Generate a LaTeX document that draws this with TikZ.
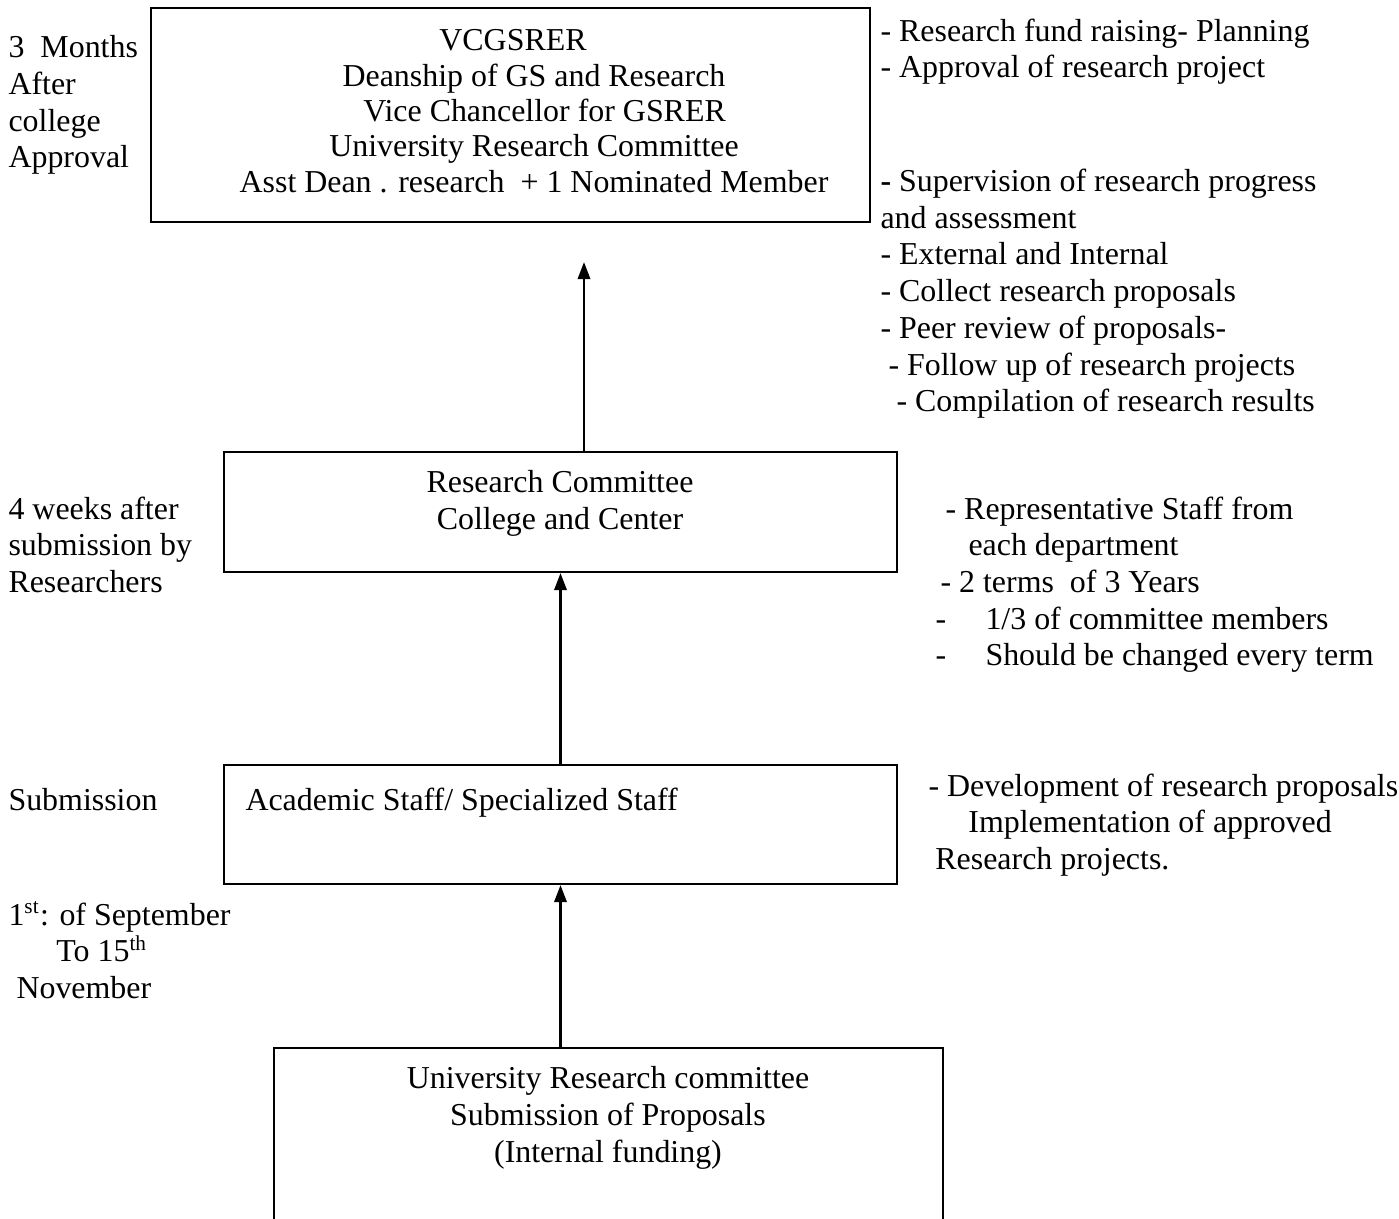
\documentclass[tikz,border=0pt]{standalone}
\usepackage{fontspec}
\setmainfont{Liberation Serif}
\usepackage{tikz}
\usetikzlibrary{positioning,calc,arrows.meta}

\tikzset{
  box/.style={draw, line width=0.8pt, inner sep=0pt},
  lbl/.style={anchor=north west, align=left, inner sep=0pt, execute at begin node=\strut},
  ctr/.style={anchor=north, align=center, inner sep=0pt, execute at begin node=\strut},
  uparrow/.style={line width=1pt, -{Triangle[length=6.4pt,width=4.6pt]}}
}

\begin{document}
\begin{tikzpicture}[x=0.376pt, y=-0.376pt, every node/.style={font=\fontsize{12}{13.8}\selectfont}]
    \useasboundingbox (0,0) rectangle (1399,1219);
    \clip (0,0) rectangle (1399,1219);

    \node[box, minimum width=270.3pt, minimum height=80.5pt] (vc) at (510.5,115) {};
    \node[box, minimum width=253.0pt, minimum height=45.1pt] (rc) at (560.5,512) {};
    \node[box, minimum width=253.0pt, minimum height=44.7pt] (as) at (560.5,824.5) {};
    \node[box, minimum width=251.5pt, minimum height=94.8pt] (urc) at (608.5,1174) {};

    \node[ctr] (vctext) at (534,29) {\hspace*{-15.8pt}VCGSRER\\[-0.5pt]Deanship of GS and Research\\[-0.5pt]\hspace*{8pt}Vice Chancellor for GSRER\\[-0.5pt]University Research Committee\\[-0.5pt]Asst Dean . research \ + 1 Nominated Member};
    \node[ctr] (rctext) at (560,470) {Research Committee\\College and Center};
    \node[lbl] (astext) at (245,784.3) {Academic Staff/ Specialized Staff};
    \node[ctr] (urctext) at (608,1066) {University Research committee\\Submission of Proposals\\(Internal funding)};

    \node[lbl] (when1) at (8,35) {3 \ Months\\After\\college\\Approval};
    \node[lbl] (when2) at (8,496) {4 weeks after\\submission by\\Researchers};
    \node[lbl] (when3) at (8,784.3) {Submission};
    \node[lbl] (when4) at (8,901) {1\textsuperscript{st}: of September\\\hspace*{18pt}To 15\textsuperscript{th}\\\hspace*{3pt}November};

    \node[lbl] (task1) at (880,18) {- Research fund raising- Planning\\- Approval of research project\\[29pt]\textbf{-} Supervision of research progress\\and assessment\\- External and Internal\\- Collect research proposals\\- Peer review of proposals-\\\hspace*{3pt}- Follow up of research projects\\\hspace*{6pt}- Compilation of research results};
    \node[lbl] (task2) at (935,496) {\hspace*{3.8pt}- Representative Staff from\\\hspace*{12.4pt}each department\\\hspace*{1.9pt}- 2 terms \ of 3 Years\\\makebox[18.8pt][l]{-}1/3 of committee members\\\makebox[18.8pt][l]{-}Should be changed every term};
    \node[lbl] (task3) at (928,773) {- Development of research proposals\\\hspace*{15pt}Implementation of approved\\\hspace*{2.6pt}Research projects.};

    \coordinate (tip) at (584,262);
    \draw[uparrow] (rc.north -| tip) -- (tip);
    \draw[uparrow] (as.north) -- (rc.south);
    \draw[uparrow] (urc.north -| as.south) -- (as.south);
\end{tikzpicture}
\end{document}
